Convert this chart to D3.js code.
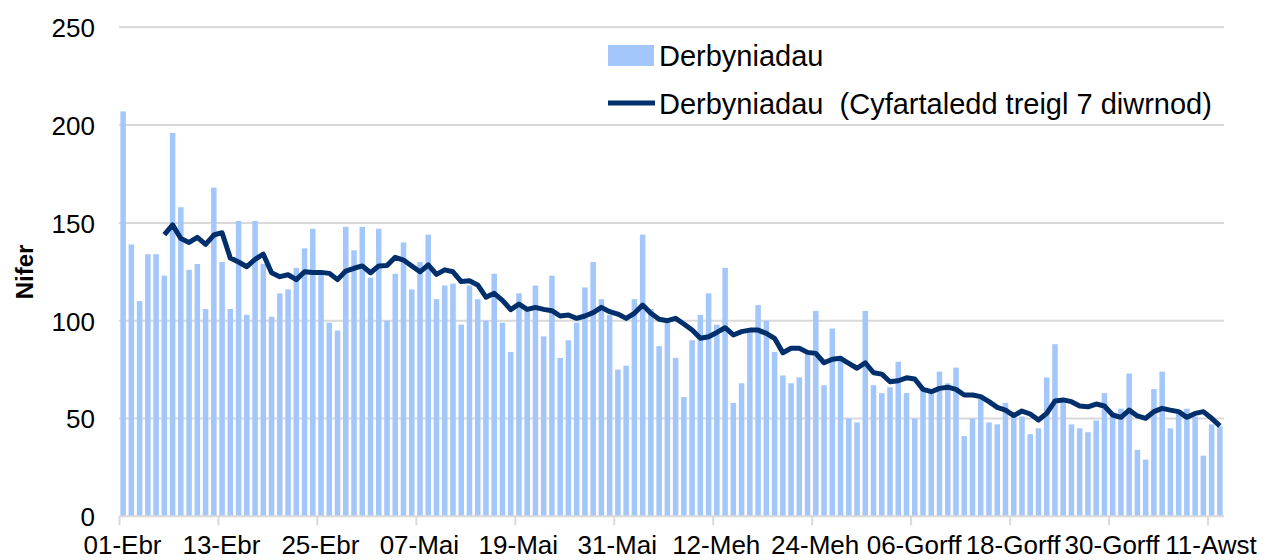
<!DOCTYPE html>
<html>
<head>
<meta charset="utf-8">
<script src="https://cdn.jsdelivr.net/npm/d3@7"></script>
<style>
  body { margin: 0; background: #fff; }
  svg text { font-family: "Liberation Sans", Arial, sans-serif; fill: #000; }
  .leg { white-space: pre; }
</style>
</head>
<body>
<div class="chart"></div>
<script>
// daily admissions, 01-Ebr .. 13-Awst
const admissions = [
  207,139,110,134,134,123,196,158,126,129,106,168,130,106,151,103,151,129,102,114,
  116,127,137,147,124,99,95,148,136,148,122,147,100,124,140,116,130,144,111,118,
  119,98,118,111,100,124,99,84,114,107,118,92,123,81,90,99,117,130,111,103,
  75,77,111,144,106,87,100,81,61,90,103,114,98,127,58,68,95,108,100,84,
  72,68,71,84,105,67,96,82,50,48,105,67,63,66,79,63,50,65,63,74,
  68,76,41,50,60,48,47,58,51,51,42,45,71,88,60,47,45,43,49,63,
  52,55,73,34,29,65,74,45,54,55,51,31,47,46
];

// 7 day rolling average line, starts on day index 5
const avgStart = 5;
const rollingAvg = [
  144,149,142,140,142.6,139,143.8,145,132,130,127.6,131.4,134,124.5,122.5,123.5,121,125,124.7,124.7,
  124.2,121,125.4,126.8,128,124.5,128,128.2,132.4,131,128,125,128.5,123.7,126,125,120,120.4,118.3,112,
  114,110.4,105.7,108.5,105.8,106.8,105.8,105.1,102.4,102.9,101.2,102.4,104.1,106.8,104.6,103.4,101.2,103.8,108,103.8,
  100.7,100,101.2,98.3,95.2,91,91.8,94,96.4,92.7,94.4,95.2,95.2,93.5,91,83.6,85.9,85.9,83.8,83.3,
  78.5,80.3,80.8,78.2,75.7,78.5,73.4,72.7,68.8,69.3,70.8,70.2,64.9,63.7,65.4,66,64.9,62,62,61.2,
  58.6,55.7,54.3,51.5,53.8,52.3,49.2,52.6,58.9,59.5,58.6,56.4,56,57.4,56.4,51.8,50.6,54.3,51.3,50.1,
  53.5,55.2,54.3,53.5,50.6,52.6,53.5,50.1,46.2
];

const tickLabels = ["01-Ebr","13-Ebr","25-Ebr","07-Mai","19-Mai","31-Mai","12-Meh","24-Meh","06-Gorff","18-Gorff","30-Gorff","11-Awst"];
const tickEvery = 12;
const yTicks = [0, 50, 100, 150, 200, 250];
const seriesNames = ["Derbyniadau", "Derbyniadau  (Cyfartaledd treigl 7 diwrnod)"];

const w = 1268, h = 560;
const pLeft = 119, pRight = 1224, pTop = 27.3, pBottom = 516.3;
const barColor = "#a3c7fa", lineColor = "#002f6c", gridColor = "#d9d9d9";

const svg = d3.select(".chart").append("svg")
  .attr("width", w).attr("height", h);

const n = admissions.length;
const xBand = d3.scaleBand()
  .domain(d3.range(n))
  .range([pLeft, pRight])
  .paddingInner(0.33)
  .paddingOuter(0.165);
const xDay = d3.scaleLinear().domain([0, n]).range([pLeft, pRight]);
const y = d3.scaleLinear().domain([0, 250]).range([pBottom, pTop]);

// gridlines
svg.append("g")
  .selectAll("line")
  .data(yTicks.filter(d => d > 0))
  .join("line")
  .attr("x1", pLeft).attr("x2", pRight)
  .attr("y1", d => y(d)).attr("y2", d => y(d))
  .attr("stroke", gridColor).attr("stroke-width", 2);

// y axis labels
const yAxis = d3.axisLeft(y).tickValues(yTicks).tickSize(0).tickPadding(24);
svg.append("g")
  .attr("transform", `translate(${pLeft},0)`)
  .call(yAxis)
  .call(g => g.select(".domain").remove())
  .call(g => g.selectAll("text")
    .style("font-size", "26px")
    .attr("font-family", null)
    .attr("dy", "0.36em"));

svg.append("text")
  .attr("transform", `translate(33,272) rotate(-90)`)
  .attr("text-anchor", "middle")
  .style("font-size", "24px")
  .style("font-weight", "bold")
  .text("Nifer");

// bars
svg.append("g")
  .selectAll("rect")
  .data(admissions)
  .join("rect")
  .attr("x", (d, i) => xBand(i))
  .attr("width", xBand.bandwidth())
  .attr("y", d => y(d))
  .attr("height", d => y(0) - y(d))
  .attr("fill", barColor);

// x axis: ticks at day boundaries, labels near the first day of each block
const tickDays = tickLabels.map((t, i) => i * tickEvery);
const xAxis = d3.axisBottom(xDay)
  .tickValues(tickDays)
  .tickFormat((d, i) => tickLabels[i])
  .tickSizeOuter(0)
  .tickSize(9)
  .tickPadding(10);
svg.append("g")
  .attr("transform", `translate(0,${pBottom})`)
  .call(xAxis)
  .call(g => g.select(".domain").attr("stroke", gridColor).attr("stroke-width", 2)
    .attr("d", `M${pLeft},0H${pRight}`))
  .call(g => g.selectAll(".tick line").attr("stroke", gridColor).attr("stroke-width", 2))
  .call(g => g.selectAll(".tick text")
    .attr("font-family", null)
    .style("font-size", "26px")
    .attr("x", 3));

// rolling average line
const line = d3.line()
  .x((d, i) => xBand(i + avgStart) + xBand.bandwidth() / 2)
  .y(d => y(d));
svg.append("path")
  .datum(rollingAvg)
  .attr("d", line)
  .attr("fill", "none")
  .attr("stroke", lineColor)
  .attr("stroke-width", 5)
  .attr("stroke-linejoin", "round");

// legend
const legend = svg.append("g").attr("transform", "translate(608,0)");
legend.append("rect")
  .attr("x", 0).attr("y", 45).attr("width", 46).attr("height", 21)
  .attr("fill", barColor);
legend.append("line")
  .attr("x1", 0).attr("x2", 47).attr("y1", 103).attr("y2", 103)
  .attr("stroke", lineColor).attr("stroke-width", 5);
legend.selectAll("text.leg")
  .data(seriesNames)
  .join("text")
  .attr("class", "leg")
  .attr("x", 51)
  .attr("y", (d, i) => 66 + i * 48)
  .style("font-size", "29px")
  .text(d => d);
</script>
</body>
</html>
